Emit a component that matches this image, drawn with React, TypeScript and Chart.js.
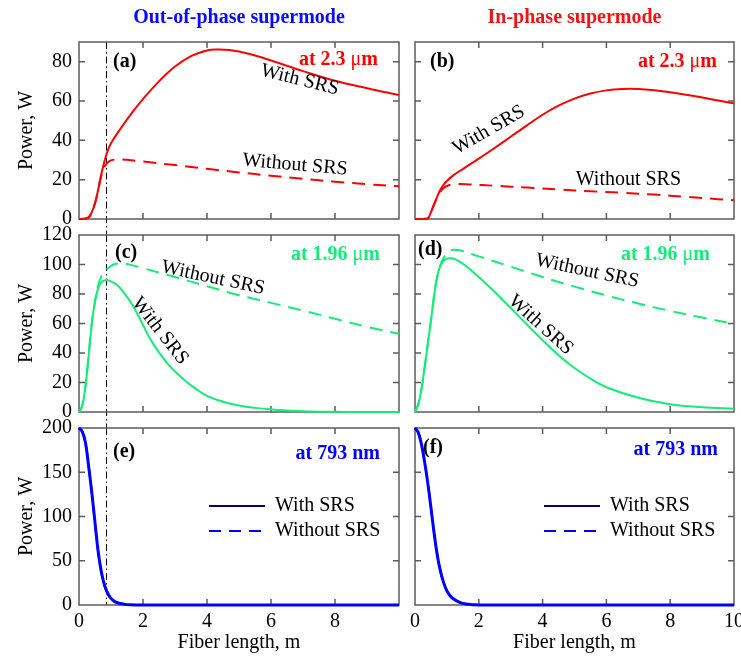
import React, { useEffect, useRef } from 'react';
import { Chart, registerables } from 'chart.js';

Chart.register(...registerables);

const FONT = "'Liberation Serif', 'Times New Roman', Times, serif";
Chart.defaults.font.family = FONT;

const PAGE_W = 741;
const PAGE_H = 656;

// ---------- shared axis ticks ----------
const X_TICKS = [0, 2, 4, 6, 8, 10];
const X_LABELS_LEFT = [0, 2, 4, 6, 8];
const Y_TICKS_23 = [0, 20, 40, 60, 80];
const Y_TICKS_196 = [0, 20, 40, 60, 80, 100, 120];
const Y_TICKS_793 = [0, 50, 100, 150, 200];
const MARK_X = 0.86; // dash-dot reference line (fiber length, m)

// ---------- (a) out-of-phase, 2.3 um ----------
const A_WITH_X = [0, 0.15, 0.3, 0.4, 0.5, 0.6, 0.7, 0.86, 1.0, 1.3, 1.7, 2.0, 2.5, 3.0, 3.5, 4.0, 4.3, 4.7, 5.3, 6.0, 7.0, 8.0, 9.0, 10];
const A_WITH_Y = [0, 0, 0.8, 3.5, 8, 15, 23, 33, 38.5, 46, 55, 61, 70, 77.5, 82.8, 85.7, 86.2, 85.9, 84, 80.6, 75.2, 70.3, 66.5, 63];
const A_WITHOUT_X = [0, 0.3, 0.5, 0.6, 0.7, 0.8, 0.9, 1.0, 1.2, 1.5, 2, 3, 4, 5, 6, 7, 8, 9, 10];
const A_WITHOUT_Y = [0, 0.8, 8, 15, 22, 26.5, 28.8, 29.8, 30.3, 30.1, 29.2, 27.4, 25.5, 23.7, 22, 20.4, 19, 17.7, 16.6];

// ---------- (b) in-phase, 2.3 um ----------
const B_WITH_X = [0, 0.2, 0.4, 0.5, 0.6, 0.7, 0.8, 0.9, 1.0, 1.2, 1.5, 2.0, 2.5, 3.0, 3.5, 4.0, 4.5, 5.0, 5.5, 6.0, 6.5, 7.0, 7.5, 8.0, 9.0, 10];
const B_WITH_Y = [0, 0, 0.3, 3.5, 7.5, 11.5, 15, 17.5, 19.3, 22.2, 25.4, 30.7, 36.2, 41.8, 47.5, 53, 57.6, 61.2, 63.8, 65.4, 66.1, 66.1, 65.5, 64.5, 61.8, 58.8];
const B_WITHOUT_X = [0, 0.2, 0.4, 0.5, 0.6, 0.7, 0.8, 0.9, 1.0, 1.15, 1.35, 1.7, 2.5, 3.5, 4.5, 5.5, 6.5, 7.5, 8.5, 9.5, 10];
const B_WITHOUT_Y = [0, 0, 0.3, 3.5, 7.5, 11, 14, 15.8, 16.8, 17.5, 17.8, 17.6, 16.9, 16, 15, 14.1, 13.3, 12.4, 11.3, 10.1, 9.5];

// ---------- (c) out-of-phase, 1.96 um ----------
const C_WITH_X = [0, 0.1, 0.2, 0.3, 0.4, 0.5, 0.6, 0.7, 0.86, 1.0, 1.2, 1.4, 1.6, 1.8, 2.0, 2.2, 2.4, 2.6, 2.8, 3.0, 3.3, 3.6, 4.0, 4.5, 5.0, 5.5, 6.0, 7.0, 8.0, 9.0, 10];
const C_WITH_Y = [0, 4, 17, 38, 60, 75, 84, 88, 89.5, 88.5, 86, 81, 75, 67.5, 59, 50.5, 43.5, 37.5, 32, 27.5, 21.5, 16.5, 11, 7, 4.4, 2.8, 1.8, 0.5, 0.1, 0, 0];
const C_WITHOUT_X = [0, 0.1, 0.2, 0.3, 0.4, 0.5, 0.6, 0.7, 0.8, 0.9, 1.0, 1.1, 1.25, 1.5, 2, 3, 4, 5, 6, 7, 8, 9, 10];
const C_WITHOUT_Y = [0, 4, 17, 38, 60, 75, 86, 92, 95.3, 97.5, 99, 100.2, 100.8, 100.4, 97.5, 91.5, 85.3, 79.2, 74, 68.8, 63.2, 57.8, 53];

// ---------- (d) in-phase, 1.96 um ----------
const D_WITH_X = [0, 0.1, 0.2, 0.3, 0.4, 0.5, 0.6, 0.7, 0.8, 0.9, 1.0, 1.1, 1.25, 1.5, 1.75, 2.0, 2.5, 3.0, 3.5, 4.0, 4.5, 5.0, 5.5, 6.0, 7.0, 8.0, 9.0, 10];
const D_WITH_Y = [0, 5, 15, 30, 46, 62, 79, 92, 99.5, 102.5, 104, 104.2, 103.6, 100.5, 96.3, 91.5, 81.3, 70.5, 59.5, 48.7, 38.5, 29.8, 22.6, 16.8, 9.6, 5.2, 3.2, 2.2];
const D_WITHOUT_X = [0, 0.1, 0.2, 0.3, 0.4, 0.5, 0.6, 0.7, 0.8, 0.9, 1.0, 1.1, 1.2, 1.4, 2, 3, 4, 5, 6, 7, 8, 9, 10];
const D_WITHOUT_Y = [0, 5, 15, 30, 46, 62, 79, 92, 99.8, 104.5, 107.5, 109.3, 110, 109.6, 105.5, 98.5, 91.5, 85, 79, 73.5, 68.5, 64, 59.8];

// ---------- (e) out-of-phase, 793 nm ----------
const E_WITH_X = [0, 0.1, 0.2, 0.3, 0.4, 0.5, 0.6, 0.7, 0.8, 0.9, 1.0, 1.1, 1.2, 1.4, 1.6, 2.0, 4, 6, 8, 10];
const E_WITH_Y = [200, 196, 184, 157, 127, 93, 60, 37, 22, 13, 7.5, 4.3, 2.5, 1, 0.3, 0, 0, 0, 0, 0];
const E_WITHOUT_X = [0, 0.1, 0.2, 0.3, 0.4, 0.5, 0.6, 0.7, 0.8, 0.9, 1.0, 1.1, 1.2, 1.4, 1.6, 2.0, 4, 6, 8, 10];
const E_WITHOUT_Y = [200, 196, 184, 157, 127, 93, 60, 37, 22, 13, 7.5, 4.3, 2.5, 1, 0.3, 0, 0, 0, 0, 0];

// ---------- (f) in-phase, 793 nm ----------
const F_WITH_X = [0, 0.1, 0.2, 0.3, 0.4, 0.5, 0.6, 0.7, 0.8, 0.9, 1.0, 1.1, 1.2, 1.4, 1.6, 2.0, 4, 6, 8, 10];
const F_WITH_Y = [200, 195, 182, 162, 138, 110, 81, 56, 38, 25, 16, 10.5, 7, 3, 1.2, 0.1, 0, 0, 0, 0];
const F_WITHOUT_X = [0, 0.1, 0.2, 0.3, 0.4, 0.5, 0.6, 0.7, 0.8, 0.9, 1.0, 1.1, 1.2, 1.4, 1.6, 2.0, 4, 6, 8, 10];
const F_WITHOUT_Y = [200, 195, 182, 162, 138, 110, 81, 56, 38, 25, 16, 10.5, 7, 3, 1.2, 0.1, 0, 0, 0, 0];

// ---------- styles ----------
const RED = '#ff0000';
const GREEN = '#14ec78';
const NAVY = '#00007a';
const BLUE = '#0000ff';
const TITLE_BLUE = '#0a0aff';
const TITLE_RED = '#f01414';
const FRAME = '#5c5c5c';
const DASH = [13, 8];
const GAP = 16;
const TICK_LEN = 6;

const COLS = [
  { left: 79, right: 399 },
  { left: 415, right: 734 },
];
const ROWS = [
  { top: 42, bottom: 219 },
  { top: 235, bottom: 412 },
  { top: 428, bottom: 605 },
];

type Series = { xs: number[]; ys: number[]; color: string; dash?: number[]; width?: number };
type Ann = { text: string; x: number; y: number; angle: number };
type Panel = {
  row: number;
  col: number;
  ymax: number;
  yTicks: number[];
  series: Series[];
  legendSeries?: Series[];
  label: string;
  labelDx: number;
  labelDy: number;
  wl: [string, string, string];
  wlColor: string;
  wlDx: number;
  wlDy: number;
  anns: Ann[];
  title?: { text: string; color: string };
};

const PANELS: Panel[] = [
  {
    row: 0, col: 0, ymax: 90, yTicks: Y_TICKS_23,
    series: [
      { xs: A_WITHOUT_X, ys: A_WITHOUT_Y, color: RED, dash: DASH },
      { xs: A_WITH_X, ys: A_WITH_Y, color: RED },
    ],
    label: '(a)', labelDx: 34, labelDy: 20,
    wl: ['at 2.3 ', '\u03bc', 'm'], wlColor: RED, wlDx: 21, wlDy: 18,
    anns: [
      { text: 'With SRS', x: 6.9, y: 70.7, angle: 14 },
      { text: 'Without SRS', x: 6.75, y: 27.5, angle: 5 },
    ],
    title: { text: 'Out-of-phase supermode', color: TITLE_BLUE },
  },
  {
    row: 0, col: 1, ymax: 90, yTicks: Y_TICKS_23,
    series: [
      { xs: B_WITHOUT_X, ys: B_WITHOUT_Y, color: RED, dash: DASH },
      { xs: B_WITH_X, ys: B_WITH_Y, color: RED },
    ],
    label: '(b)', labelDx: 15, labelDy: 20,
    wl: ['at 2.3 ', '\u03bc', 'm'], wlColor: RED, wlDx: 17, wlDy: 20,
    anns: [
      { text: 'With SRS', x: 2.31, y: 45.2, angle: -30 },
      { text: 'Without SRS', x: 6.69, y: 19.8, angle: 0 },
    ],
    title: { text: 'In-phase supermode', color: TITLE_RED },
  },
  {
    row: 1, col: 0, ymax: 120, yTicks: Y_TICKS_196,
    series: [
      { xs: C_WITHOUT_X, ys: C_WITHOUT_Y, color: GREEN, dash: DASH },
      { xs: C_WITH_X, ys: C_WITH_Y, color: GREEN },
    ],
    label: '(c)', labelDx: 36, labelDy: 18,
    wl: ['at 1.96 ', '\u03bc', 'm'], wlColor: GREEN, wlDx: 19, wlDy: 20,
    anns: [
      { text: 'Without SRS', x: 4.19, y: 90.9, angle: 12 },
      { text: 'With SRS', x: 2.53, y: 55, angle: 52 },
    ],
  },
  {
    row: 1, col: 1, ymax: 120, yTicks: Y_TICKS_196,
    series: [
      { xs: D_WITHOUT_X, ys: D_WITHOUT_Y, color: GREEN, dash: DASH },
      { xs: D_WITH_X, ys: D_WITH_Y, color: GREEN },
    ],
    label: '(d)', labelDx: 3, labelDy: 15,
    wl: ['at 1.96 ', '\u03bc', 'm'], wlColor: GREEN, wlDx: 24, wlDy: 20,
    anns: [
      { text: 'Without SRS', x: 5.4, y: 95.6, angle: 12 },
      { text: 'With SRS', x: 3.94, y: 59, angle: 42 },
    ],
  },
  {
    row: 2, col: 0, ymax: 200, yTicks: Y_TICKS_793,
    series: [
      { xs: E_WITHOUT_X, ys: E_WITHOUT_Y, color: BLUE, width: 3 },
      { xs: E_WITH_X, ys: E_WITH_Y, color: NAVY, width: 1.4 },
      { xs: E_WITHOUT_X, ys: E_WITHOUT_Y, color: BLUE, dash: [12, 8], width: 2 },
    ],
    legendSeries: [
      { xs: [], ys: [], color: NAVY },
      { xs: [], ys: [], color: BLUE, dash: [12, 8] },
    ],
    label: '(e)', labelDx: 34, labelDy: 24,
    wl: ['at 793 nm', '', ''], wlColor: BLUE, wlDx: 19, wlDy: 26,
    anns: [],
  },
  {
    row: 2, col: 1, ymax: 200, yTicks: Y_TICKS_793,
    series: [
      { xs: F_WITHOUT_X, ys: F_WITHOUT_Y, color: BLUE, width: 3 },
      { xs: F_WITH_X, ys: F_WITH_Y, color: NAVY, width: 1.4 },
      { xs: F_WITHOUT_X, ys: F_WITHOUT_Y, color: BLUE, dash: [12, 8], width: 2 },
    ],
    legendSeries: [
      { xs: [], ys: [], color: NAVY },
      { xs: [], ys: [], color: BLUE, dash: [12, 8] },
    ],
    label: '(f)', labelDx: 8, labelDy: 20,
    wl: ['at 793 nm', '', ''], wlColor: BLUE, wlDx: 16, wlDy: 22,
    anns: [],
  },
];

function makeDecor(p: Panel) {
  return {
    id: 'decor' + p.row + p.col,
    beforeDatasetsDraw(chart: any) {
      const { ctx, chartArea: a, scales } = chart;
      const xs = scales.x;
      const ys = scales.y;
      ctx.save();
      if (p.col === 0) {
        const px = xs.getPixelForValue(MARK_X);
        ctx.strokeStyle = '#000';
        ctx.lineWidth = 1;
        ctx.setLineDash([7, 3, 1.5, 3]);
        ctx.beginPath();
        ctx.moveTo(px, a.top);
        ctx.lineTo(px, a.bottom + (p.row < 2 ? GAP : 0));
        ctx.stroke();
        ctx.setLineDash([]);
      }
      ctx.strokeStyle = FRAME;
      ctx.lineWidth = 1.5;
      ctx.strokeRect(a.left, a.top, a.right - a.left, a.bottom - a.top);
      ctx.beginPath();
      for (const v of X_TICKS) {
        if (v <= xs.min || v >= xs.max) continue;
        const px = xs.getPixelForValue(v);
        ctx.moveTo(px, a.bottom);
        ctx.lineTo(px, a.bottom - TICK_LEN);
        ctx.moveTo(px, a.top);
        ctx.lineTo(px, a.top + TICK_LEN);
      }
      for (const v of p.yTicks) {
        if (v <= ys.min || v >= ys.max) continue;
        const py = ys.getPixelForValue(v);
        ctx.moveTo(a.left, py);
        ctx.lineTo(a.left + TICK_LEN, py);
        ctx.moveTo(a.right, py);
        ctx.lineTo(a.right - TICK_LEN, py);
      }
      ctx.stroke();
      ctx.restore();
    },
    afterDraw(chart: any) {
      const { ctx, chartArea: a, scales } = chart;
      ctx.save();
      if (p.title) {
        ctx.font = `bold 20px ${FONT}`;
        ctx.fillStyle = p.title.color;
        ctx.textAlign = 'center';
        ctx.textBaseline = 'middle';
        ctx.fillText(p.title.text, (a.left + a.right) / 2, a.top - 24);
      }
      ctx.font = `bold 20px ${FONT}`;
      ctx.fillStyle = '#000';
      ctx.textAlign = 'left';
      ctx.textBaseline = 'middle';
      ctx.fillText(p.label, a.left + p.labelDx, a.top + p.labelDy);
      // wavelength label: bold text with a regular-weight mu
      const bold = `bold 20px ${FONT}`;
      const reg = `20px ${FONT}`;
      const parts: [string, string][] = [
        [p.wl[0], bold],
        [p.wl[1], reg],
        [p.wl[2], bold],
      ];
      let total = 0;
      for (const [t, f] of parts) {
        ctx.font = f;
        total += ctx.measureText(t).width;
      }
      let cx = a.right - p.wlDx - total;
      ctx.fillStyle = p.wlColor;
      ctx.textAlign = 'left';
      for (const [t, f] of parts) {
        ctx.font = f;
        ctx.fillText(t, cx, a.top + p.wlDy);
        cx += ctx.measureText(t).width;
      }
      ctx.font = reg;
      ctx.fillStyle = '#000';
      ctx.textAlign = 'center';
      for (const an of p.anns) {
        const px = scales.x.getPixelForValue(an.x);
        const py = scales.y.getPixelForValue(an.y);
        ctx.save();
        ctx.translate(px, py);
        ctx.rotate((an.angle * Math.PI) / 180);
        ctx.fillText(an.text, 0, 0);
        ctx.restore();
      }
      if (p.legendSeries) {
        const rows = [
          { s: p.legendSeries[0], text: 'With SRS', dy: 78 },
          { s: p.legendSeries[1], text: 'Without SRS', dy: 103 },
        ];
        for (const r of rows) {
          const y = a.top + r.dy;
          ctx.strokeStyle = r.s.color;
          ctx.lineWidth = 2;
          ctx.setLineDash(r.s.dash || []);
          ctx.beginPath();
          ctx.moveTo(a.right - 190, y);
          ctx.lineTo(a.right - 134, y);
          ctx.stroke();
          ctx.setLineDash([]);
          ctx.fillStyle = '#000';
          ctx.textAlign = 'left';
          ctx.fillText(r.text, a.right - 124, y);
        }
      }
      ctx.restore();
    },
  };
}

function buildConfig(p: Panel): any {
  const col = COLS[p.col];
  const row = ROWS[p.row];
  const yAxisW = p.col === 0 ? 79 : 40;
  const xAxisH = p.row === 2 ? 50 : 0;
  const tickFont = { family: FONT, size: 20 };
  return {
    type: 'line',
    data: {
      datasets: p.series.map((s) => ({
        data: s.xs.map((x, i) => ({ x, y: s.ys[i] })),
        borderColor: s.color,
        borderWidth: s.width || 2,
        borderDash: s.dash || [],
        pointRadius: 0,
        fill: false,
        tension: 0.4,
        clip: false,
      })),
    },
    options: {
      animation: false,
      responsive: false,
      events: [],
      layout: {
        padding: {
          left: col.left - yAxisW,
          right: PAGE_W - col.right,
          top: row.top,
          bottom: PAGE_H - row.bottom - xAxisH,
        },
      },
      plugins: {
        legend: { display: false },
        tooltip: { enabled: false },
        title: { display: false },
      },
      scales: {
        x: {
          type: 'linear',
          min: 0,
          max: 10,
          grid: { display: false, drawTicks: false },
          border: { display: false },
          ticks: {
            display: p.row === 2,
            padding: 5,
            font: tickFont,
            color: '#000',
            maxRotation: 0,
            autoSkip: false,
          },
          afterBuildTicks: (s: any) => {
            s.ticks = (p.col === 0 ? X_LABELS_LEFT : X_TICKS).map((v) => ({ value: v }));
          },
          title: {
            display: p.row === 2,
            text: 'Fiber length, m',
            font: tickFont,
            color: '#000',
            padding: { top: 0, bottom: 0 },
          },
          afterFit: (s: any) => {
            s.height = xAxisH;
            s.paddingLeft = 0;
            s.paddingRight = 0;
          },
        },
        y: {
          type: 'linear',
          min: 0,
          max: p.ymax,
          grid: { display: false, drawTicks: false },
          border: { display: false },
          ticks: {
            display: p.col === 0,
            padding: 7,
            font: tickFont,
            color: '#000',
            autoSkip: false,
          },
          afterBuildTicks: (s: any) => {
            s.ticks = p.yTicks.map((v) => ({ value: v }));
          },
          title: {
            display: p.col === 0,
            text: 'Power, W',
            font: tickFont,
            color: '#000',
            padding: { top: 15, bottom: 0 },
          },
          afterFit: (s: any) => {
            s.width = yAxisW;
            s.paddingTop = 0;
            s.paddingBottom = 0;
          },
        },
      },
    },
    plugins: [makeDecor(p)],
  };
}

export default function App() {
  const refs = useRef<(HTMLCanvasElement | null)[]>([]);
  useEffect(() => {
    const charts = PANELS.map((p, i) => new Chart(refs.current[i] as HTMLCanvasElement, buildConfig(p)));
    return () => charts.forEach((c) => c.destroy());
  }, []);
  return (
    <div style={{ position: 'absolute', left: 0, top: 0, width: PAGE_W, height: PAGE_H, background: '#fff' }}>
      {PANELS.map((p, i) => (
        <canvas
          key={i}
          ref={(el) => {
            refs.current[i] = el;
          }}
          width={PAGE_W}
          height={PAGE_H}
          style={{ position: 'absolute', left: 0, top: 0 }}
        />
      ))}
    </div>
  );
}
